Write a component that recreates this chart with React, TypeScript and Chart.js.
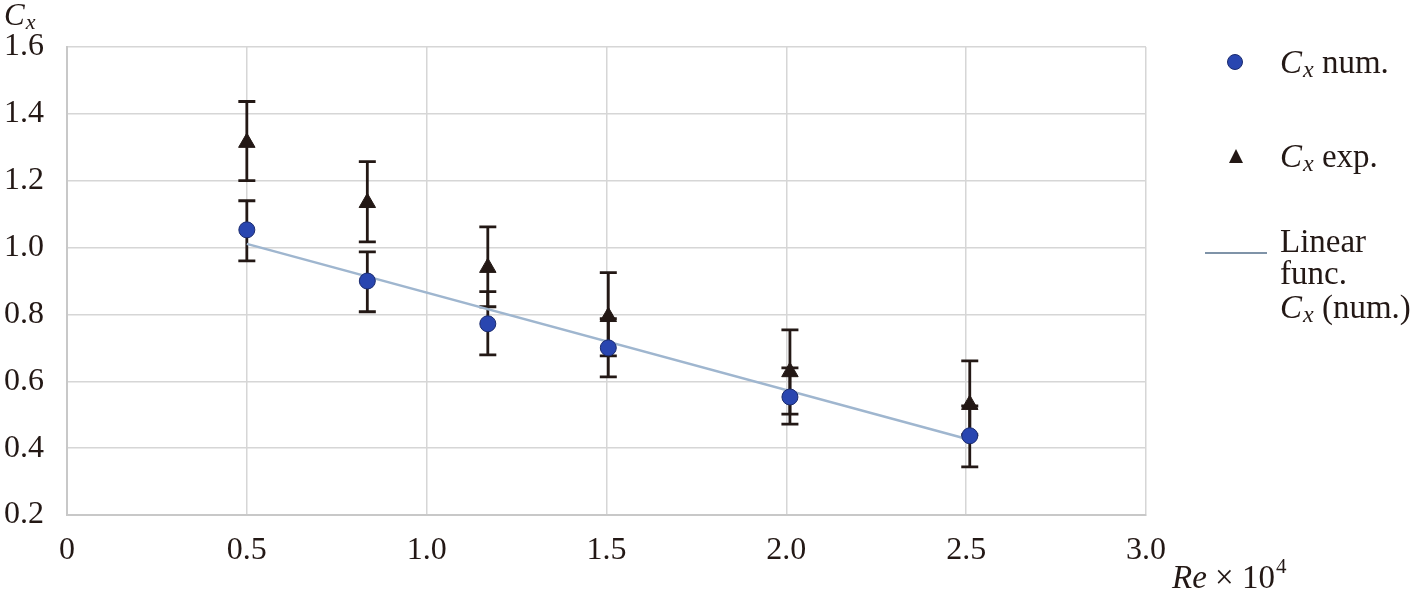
import React, { useEffect, useRef } from "react";
import { Chart, registerables } from "chart.js";

Chart.register(...registerables);

// Re × 10^4 positions
const reValues = [0.5, 0.835, 1.17, 1.505, 2.01, 2.51];
// Cx numerical
const cxNum = [1.053, 0.9, 0.772, 0.7, 0.553, 0.437];
const cxNumHigh = [1.14, 0.987, 0.868, 0.787, 0.64, 0.526];
const cxNumLow = [0.96, 0.808, 0.679, 0.613, 0.472, 0.344];
// Cx experimental
const cxExp = [1.314, 1.134, 0.94, 0.793, 0.628, 0.53];
const cxExpHigh = [1.437, 1.257, 1.062, 0.925, 0.754, 0.661];
const cxExpLow = [1.2, 1.017, 0.823, 0.676, 0.502, 0.44];
// linear fit of Cx (num.)
const fitX = [0.5, 2.51];
const fitY = [1.011, 0.425];

const xTicks = [0, 0.5, 1.0, 1.5, 2.0, 2.5, 3.0];
const yTicks = [0.2, 0.4, 0.6, 0.8, 1.0, 1.2, 1.4, 1.6];

const TEXT = "#231815";
const SERIF = "'Liberation Serif', 'Times New Roman', serif";
const BLUE = "#2946b0";
const FIT = "#9fb6cf";

const errorBarPlugin = {
  id: "errorBars",
  beforeDatasetsDraw(chart: any) {
    const { ctx, scales } = chart;
    const xs = scales.x;
    const ys = scales.y;
    ctx.save();
    ctx.strokeStyle = TEXT;
    ctx.lineWidth = 2.8;
    const cap = 8.5;
    const bars = (lo: number[], hi: number[]) => {
      reValues.forEach((xv, i) => {
        const px = xs.getPixelForValue(xv);
        const p1 = ys.getPixelForValue(lo[i]);
        const p2 = ys.getPixelForValue(hi[i]);
        ctx.beginPath();
        ctx.moveTo(px, p1);
        ctx.lineTo(px, p2);
        ctx.moveTo(px - cap, p1);
        ctx.lineTo(px + cap, p1);
        ctx.moveTo(px - cap, p2);
        ctx.lineTo(px + cap, p2);
        ctx.stroke();
      });
    };
    bars(cxExpLow, cxExpHigh);
    bars(cxNumLow, cxNumHigh);
    ctx.restore();
  },
};

function drawCx(ctx: CanvasRenderingContext2D, x: number, y: number, size: number, rest: string) {
  ctx.font = `italic ${size}px ${SERIF}`;
  ctx.fillText("C", x, y);
  let cx = x + ctx.measureText("C").width + 1;
  const sub = Math.round(size * 0.72);
  ctx.font = `italic ${sub}px ${SERIF}`;
  ctx.fillText("x", cx, y + size * 0.12);
  cx += ctx.measureText("x").width;
  if (rest) {
    ctx.font = `${size}px ${SERIF}`;
    ctx.fillText(rest, cx, y);
  }
}

const annotationPlugin = {
  id: "annotations",
  afterDraw(chart: any) {
    const { ctx } = chart;
    ctx.save();
    ctx.fillStyle = TEXT;
    ctx.textBaseline = "alphabetic";
    ctx.textAlign = "left";

    // y axis title
    drawCx(ctx, 4, 25, 31, "");

    // x axis title
    ctx.font = `italic 33px ${SERIF}`;
    ctx.fillText("Re", 1172, 588);
    let tx = 1172 + ctx.measureText("Re").width;
    ctx.font = `33px ${SERIF}`;
    ctx.fillText(" × 10", tx, 588);
    tx += ctx.measureText(" × 10").width;
    ctx.font = `21px ${SERIF}`;
    ctx.fillText("4", tx + 1, 573);

    // legend
    ctx.beginPath();
    ctx.arc(1235, 62, 7.5, 0, Math.PI * 2);
    ctx.fillStyle = BLUE;
    ctx.fill();
    ctx.strokeStyle = "#1b2b6e";
    ctx.lineWidth = 1;
    ctx.stroke();
    ctx.fillStyle = TEXT;
    drawCx(ctx, 1280, 73, 33, " num.");

    ctx.beginPath();
    ctx.moveTo(1236, 149);
    ctx.lineTo(1243, 163);
    ctx.lineTo(1229, 163);
    ctx.closePath();
    ctx.fill();
    drawCx(ctx, 1280, 167, 33, " exp.");

    ctx.beginPath();
    ctx.moveTo(1205, 253);
    ctx.lineTo(1267, 253);
    ctx.strokeStyle = "#7f93a8";
    ctx.lineWidth = 2;
    ctx.stroke();
    ctx.font = `33px ${SERIF}`;
    ctx.fillText("Linear", 1280, 252);
    ctx.fillText("func.", 1280, 284);
    drawCx(ctx, 1280, 318, 33, " (num.)");
    ctx.restore();
  },
};

export default function App() {
  const ref = useRef<HTMLCanvasElement | null>(null);
  useEffect(() => {
    document.body.style.margin = "0";
    if (!ref.current) return;
    const chart = new Chart(ref.current, {
      type: "scatter",
      data: {
        datasets: [
          {
            label: "Cx num.",
            data: reValues.map((x, i) => ({ x, y: cxNum[i] })),
            pointStyle: "circle",
            pointRadius: 8,
            backgroundColor: BLUE,
            borderColor: "#1b2b6e",
            borderWidth: 1,
          },
          {
            label: "Cx exp.",
            data: reValues.map((x, i) => ({ x, y: cxExp[i] })),
            pointStyle: "triangle",
            pointRadius: 9.5,
            backgroundColor: TEXT,
            borderColor: TEXT,
            borderWidth: 1,
          },
          {
            type: "line",
            label: "Linear func. Cx (num.)",
            data: fitX.map((x, i) => ({ x, y: fitY[i] })),
            borderColor: FIT,
            borderWidth: 2.5,
            pointRadius: 0,
            showLine: true,
            fill: false,
          } as any,
        ],
      },
      options: {
        animation: false,
        responsive: true,
        maintainAspectRatio: false,
        layout: { padding: { left: 0, top: 47, right: 269, bottom: 0 } },
        plugins: { legend: { display: false }, tooltip: { enabled: false } },
        scales: {
          x: {
            type: "linear",
            min: 0,
            max: 3,
            afterBuildTicks: (s: any) => {
              s.ticks = xTicks.map((v) => ({ value: v }));
            },
            afterFit: (s: any) => {
              s.height = 77;
            },
            grid: { color: "#d6d6d6", lineWidth: 1.5, drawTicks: false },
            border: { color: "#c8c8c8", width: 2 },
            ticks: {
              padding: 16,
              color: TEXT,
              font: { family: SERIF, size: 32 },
              maxRotation: 0,
              autoSkip: false,
              callback: (v: any) => (Number(v) === 0 ? "0" : Number(v).toFixed(1)),
            },
          },
          y: {
            type: "linear",
            min: 0.2,
            max: 1.6,
            afterBuildTicks: (s: any) => {
              s.ticks = yTicks.map((v) => ({ value: v }));
            },
            afterFit: (s: any) => {
              s.width = 67;
            },
            grid: { color: "#d6d6d6", lineWidth: 1.5, drawTicks: false },
            border: { color: "#c8c8c8", width: 2 },
            ticks: {
              padding: 23,
              color: TEXT,
              font: { family: SERIF, size: 32 },
              autoSkip: false,
              callback: (v: any) => Number(v).toFixed(1),
            },
          },
        },
      },
      plugins: [errorBarPlugin, annotationPlugin],
    } as any);
    return () => chart.destroy();
  }, []);
  return (
    <div style={{ position: "fixed", left: 0, top: 0, width: 1415, height: 592, background: "#fff" }}>
      <canvas ref={ref} />
    </div>
  );
}
